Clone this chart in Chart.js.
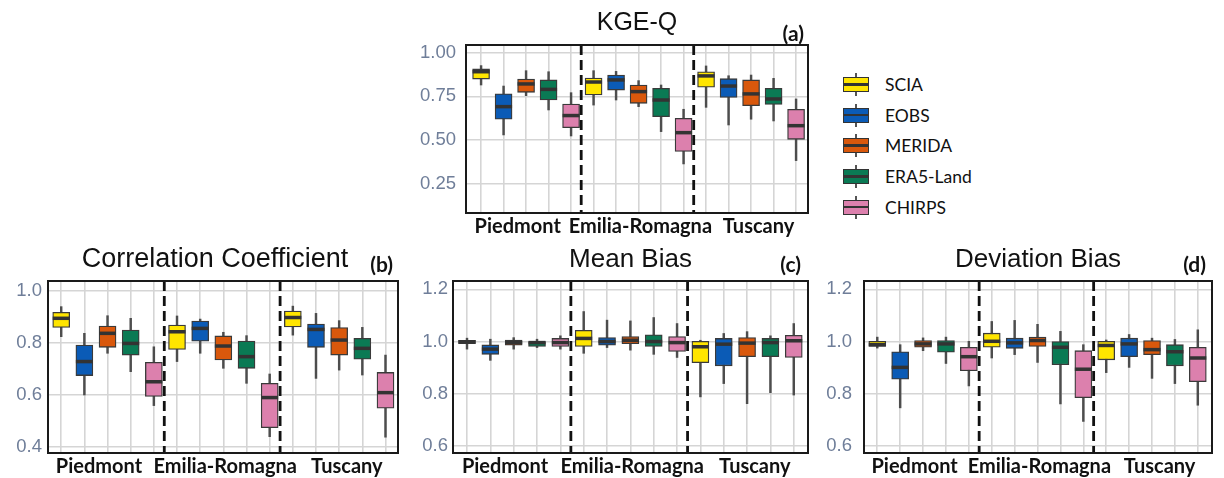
<!DOCTYPE html>
<html>
<head>
<meta charset="utf-8">
<script src="https://cdn.jsdelivr.net/npm/chart.js@4.4.0/dist/chart.umd.min.js"></script>
<style>
    body { margin: 0; background: #fff; width: 1224px; height: 478px; position: relative; overflow: hidden; }
    .pan { position: absolute; }
    .pan canvas { display: block; }
    .leg-row { position: absolute; left: 843px; width: 160px; height: 23px; }
    .glyph { position: absolute; left: 0; top: 0; width: 26px; height: 23px; }
    .glyph .wh { position: absolute; left: 12px; top: 0; width: 2px; height: 23px; background: #555; }
    .glyph .bx { position: absolute; left: 0; top: 4px; width: 24px; height: 13px; border: 1px solid #333; }
    .glyph .md { position: absolute; left: 0; top: 10px; width: 26px; height: 2.5px; background: #333; }
    .leg-txt { position: absolute; left: 42px; top: 0; font: 17.5px Lato, sans-serif; line-height: 23px; color: #111; }
</style>
</head>
<body>
<div class="pan" style="left:400px;top:0px"><canvas id="kge" width="420" height="240"></canvas></div>
<div class="pan" style="left:0px;top:240px"><canvas id="corr" width="410" height="238"></canvas></div>
<div class="pan" style="left:410px;top:240px"><canvas id="mbias" width="410" height="238"></canvas></div>
<div class="pan" style="left:820px;top:240px"><canvas id="dbias" width="404" height="238"></canvas></div>
<div id="legend"></div>

<script>
// products and regions
var products = ['SCIA', 'EOBS', 'MERIDA', 'ERA5-Land', 'CHIRPS'];
var colors = ['#ffe500', '#0b5bb6', '#d9580c', '#0a7a54', '#dc80ad'];
var regions = ['Piedmont', 'Emilia-Romagna', 'Tuscany'];
var regionPos = [2.63, 8.08, 13.33];   // where the region names sit on the x axis
var dividers = [5.45, 10.45];           // dashed lines between regions
var boxPos = [1, 2, 3, 4, 5, 6, 7, 8, 9, 10, 11, 12, 13, 14, 15];

// each row: [whisker low, q1, median, q3, whisker high]
// order: Piedmont (5 products), Emilia-Romagna (5), Tuscany (5)
var kgeQ = [
    [0.815, 0.849, 0.891, 0.907, 0.926],
    [0.529, 0.619, 0.691, 0.764, 0.809],
    [0.754, 0.773, 0.821, 0.849, 0.897],
    [0.672, 0.729, 0.790, 0.844, 0.891],
    [0.523, 0.571, 0.640, 0.706, 0.771],
    [0.700, 0.758, 0.832, 0.855, 0.897],
    [0.729, 0.786, 0.844, 0.872, 0.893],
    [0.691, 0.710, 0.777, 0.815, 0.840],
    [0.548, 0.634, 0.729, 0.796, 0.815],
    [0.363, 0.434, 0.542, 0.624, 0.676],
    [0.687, 0.802, 0.867, 0.891, 0.924],
    [0.586, 0.744, 0.809, 0.851, 0.868],
    [0.619, 0.697, 0.764, 0.844, 0.872],
    [0.609, 0.704, 0.735, 0.796, 0.853],
    [0.382, 0.504, 0.582, 0.676, 0.735]
];
var corrCoef = [
    [0.824, 0.860, 0.895, 0.918, 0.940],
    [0.599, 0.674, 0.728, 0.792, 0.837],
    [0.760, 0.783, 0.837, 0.865, 0.905],
    [0.689, 0.753, 0.798, 0.850, 0.895],
    [0.558, 0.593, 0.650, 0.725, 0.785],
    [0.728, 0.775, 0.843, 0.869, 0.904],
    [0.760, 0.807, 0.856, 0.884, 0.892],
    [0.702, 0.734, 0.788, 0.827, 0.841],
    [0.644, 0.702, 0.747, 0.807, 0.828],
    [0.438, 0.473, 0.589, 0.644, 0.680],
    [0.830, 0.862, 0.898, 0.923, 0.942],
    [0.663, 0.783, 0.852, 0.873, 0.914],
    [0.695, 0.753, 0.811, 0.859, 0.886],
    [0.676, 0.737, 0.779, 0.818, 0.860],
    [0.436, 0.548, 0.608, 0.686, 0.753]
];
var meanBias = [
    [0.971, 0.992, 0.999, 1.005, 1.013],
    [0.928, 0.951, 0.971, 0.987, 1.009],
    [0.971, 0.986, 0.996, 1.006, 1.015],
    [0.977, 0.981, 0.996, 1.000, 1.009],
    [0.971, 0.981, 0.996, 1.012, 1.022],
    [0.955, 0.981, 1.012, 1.043, 1.115],
    [0.977, 0.986, 1.000, 1.015, 1.082],
    [0.967, 0.992, 1.005, 1.019, 1.079],
    [0.951, 0.981, 1.000, 1.026, 1.092],
    [0.939, 0.962, 0.996, 1.019, 1.069],
    [0.788, 0.919, 0.980, 1.001, 1.005],
    [0.839, 0.907, 0.990, 1.012, 1.031],
    [0.762, 0.942, 0.994, 1.015, 1.038],
    [0.804, 0.942, 0.996, 1.012, 1.022],
    [0.795, 0.939, 1.003, 1.024, 1.069]
];
var devBias = [
    [0.975, 0.981, 0.988, 1.001, 1.017],
    [0.746, 0.856, 0.901, 0.961, 0.988],
    [0.965, 0.978, 0.991, 1.004, 1.014],
    [0.916, 0.959, 0.991, 1.004, 1.017],
    [0.830, 0.888, 0.942, 0.978, 1.001],
    [0.937, 0.978, 1.001, 1.032, 1.077],
    [0.950, 0.974, 0.995, 1.013, 1.081],
    [0.920, 0.981, 1.004, 1.017, 1.066],
    [0.761, 0.911, 0.978, 1.000, 1.039],
    [0.694, 0.785, 0.894, 0.965, 0.988],
    [0.881, 0.930, 0.985, 1.001, 1.006],
    [0.901, 0.942, 0.991, 1.013, 1.027],
    [0.859, 0.950, 0.969, 1.004, 1.013],
    [0.839, 0.907, 0.961, 0.988, 1.008],
    [0.756, 0.846, 0.937, 0.978, 1.045]
];

// y tick labels
var kgeTicks = [0.25, 0.50, 0.75, 1.00];
var corrTicks = [0.4, 0.6, 0.8, 1.0];
var biasTicks = [0.6, 0.8, 1.0, 1.2];


// plugin: frame, dashed separators, titles, region names
var decorPlugin = {
    id: 'decor',
    afterDatasetsDraw: function (chart) {
        var ctx = chart.ctx, a = chart.chartArea, xs = chart.scales.x;
        ctx.save();
        ctx.strokeStyle = '#111';
        ctx.lineWidth = 2.8;
        ctx.setLineDash([10, 5]);
        dividers.forEach(function (d) {
            var px = xs.getPixelForValue(d);
            ctx.beginPath();
            ctx.moveTo(px, a.top);
            ctx.lineTo(px, a.bottom);
            ctx.stroke();
        });
        ctx.restore();
    },
    afterDraw: function (chart, args, o) {
        var ctx = chart.ctx, a = chart.chartArea, xs = chart.scales.x;
        ctx.save();
        ctx.strokeStyle = '#1a1a1a';
        ctx.lineWidth = 2;
        ctx.strokeRect(a.left, a.top, a.right - a.left, a.bottom - a.top);

        ctx.fillStyle = '#111';
        ctx.textAlign = 'center';
        ctx.textBaseline = 'alphabetic';
        ctx.font = o.titleSize + 'px "Liberation Sans", Arial, sans-serif';
        ctx.fillText(o.title, (a.left + a.right) / 2 + o.titleShift, o.titleY);

        ctx.textAlign = 'right';
        ctx.textBaseline = 'middle';
        ctx.font = 'bold 21px Lato, sans-serif';
        ctx.fillText(o.letter, a.right - o.letterGap, o.letterY);

        ctx.textAlign = 'center';
        ctx.textBaseline = 'alphabetic';
        ctx.font = 'bold 20px Lato, sans-serif';
        for (var i = 0; i < regions.length; i++) {
            ctx.fillText(regions[i], xs.getPixelForValue(regionPos[i]), a.bottom + 20);
        }
        ctx.restore();
    }
};

function boxPlot(id, stats, ticks, dec, g) {
    var boxes = [], whiskers = [], medians = [], fills = [];
    for (var i = 0; i < stats.length; i++) {
        whiskers.push({ x: boxPos[i], y: [stats[i][0], stats[i][4]] });
        boxes.push({ x: boxPos[i], y: [stats[i][1], stats[i][3]] });
        medians.push({ x: boxPos[i], y: stats[i][2] });
        fills.push(colors[i % products.length]);
    }
    return new Chart(document.getElementById(id), {
        type: 'bar',
        data: {
            datasets: [{
                type: 'scatter',
                data: medians,
                pointStyle: 'line',
                pointRadius: 8.5,
                borderWidth: 3.5,
                borderColor: '#333',
                order: 0
            }, {
                data: boxes,
                backgroundColor: fills,
                borderColor: '#3a3a3a',
                borderWidth: 1.3,
                borderSkipped: false,
                barThickness: 17,
                grouped: false,
                order: 1
            }, {
                data: whiskers,
                backgroundColor: '#4d4d4d',
                borderWidth: 0,
                barThickness: 1.8,
                grouped: false,
                order: 2
            }]
        },
        options: {
            responsive: false,
            animation: false,
            events: [],
            layout: { padding: { left: 0, right: g.padRight, top: g.padTop, bottom: g.padBottom } },
            plugins: {
                legend: { display: false },
                tooltip: { enabled: false },
                decor: g
            },
            scales: {
                x: {
                    type: 'linear',
                    min: g.xMin,
                    max: g.xMax,
                    offset: false,
                    afterBuildTicks: function (s) { s.ticks = boxPos.map(function (v) { return { value: v }; }); },
                    afterFit: function (s) { s.height = 0; },
                    ticks: { display: false },
                    grid: { color: '#d5d5d5', lineWidth: 1.6, drawTicks: false, offset: false },
                    border: { display: false }
                },
                y: {
                    min: g.yMin,
                    max: g.yMax,
                    beginAtZero: false,
                    afterBuildTicks: function (s) { s.ticks = ticks.map(function (v) { return { value: v }; }); },
                    afterFit: function (s) { s.width = g.yWidth; },
                    ticks: {
                        padding: g.tickPad,
                        color: '#6f7e99',
                        font: { family: '"Liberation Sans", Arial, sans-serif', size: 18.5 },
                        callback: function (v) { return Number(v).toFixed(dec); }
                    },
                    grid: { color: '#d5d5d5', lineWidth: 1.6, drawTicks: false },
                    border: { display: false }
                }
            }
        },
        plugins: [decorPlugin]
    });
}

boxPlot('kge', kgeQ, kgeTicks, 2, {
    title: 'KGE-Q', letter: '(a)', titleSize: 25, titleShift: 0, titleY: 30, letterY: 34, letterGap: 4,
    yWidth: 66, padRight: 9, padTop: 45, padBottom: 27, tickPad: 10,
    xMin: 0.33, xMax: 15.53, yMin: 0.082, yMax: 1.044
});
boxPlot('corr', corrCoef, corrTicks, 1, {
    title: 'Correlation Coefficient', letter: '(b)', titleSize: 27, titleShift: -8, titleY: 27, letterY: 25, letterGap: 5,
    yWidth: 48, padRight: 7, padTop: 41, padBottom: 25, tickPad: 6,
    xMin: 0.43, xMax: 15.54, yMin: 0.375, yMax: 1.039
});
boxPlot('mbias', meanBias, biasTicks, 1, {
    title: 'Mean Bias', letter: '(c)', titleSize: 26, titleShift: 0, titleY: 27, letterY: 25, letterGap: 7,
    yWidth: 43, padRight: 10, padTop: 41, padBottom: 25, tickPad: 5,
    xMin: 0.40, xMax: 15.61, yMin: 0.573, yMax: 1.232
});
boxPlot('dbias', devBias, biasTicks, 1, {
    title: 'Deviation Bias', letter: '(d)', titleSize: 26, titleShift: 0, titleY: 27, letterY: 25, letterGap: 6,
    yWidth: 44, padRight: 6, padTop: 41, padBottom: 25, tickPad: 12,
    xMin: 0.42, xMax: 15.62, yMin: 0.573, yMax: 1.232
});

// legend next to panel (a)
var legend = document.getElementById('legend');
for (var i = 0; i < products.length; i++) {
    var row = document.createElement('div');
    row.className = 'leg-row';
    row.style.top = (73 + i * 30.7) + 'px';
    row.innerHTML = '<div class="glyph"><div class="wh"></div><div class="bx" style="background:' + colors[i] +
        '"></div><div class="md"></div></div><div class="leg-txt">' + products[i] + '</div>';
    legend.appendChild(row);
}
</script>
</body>
</html>
